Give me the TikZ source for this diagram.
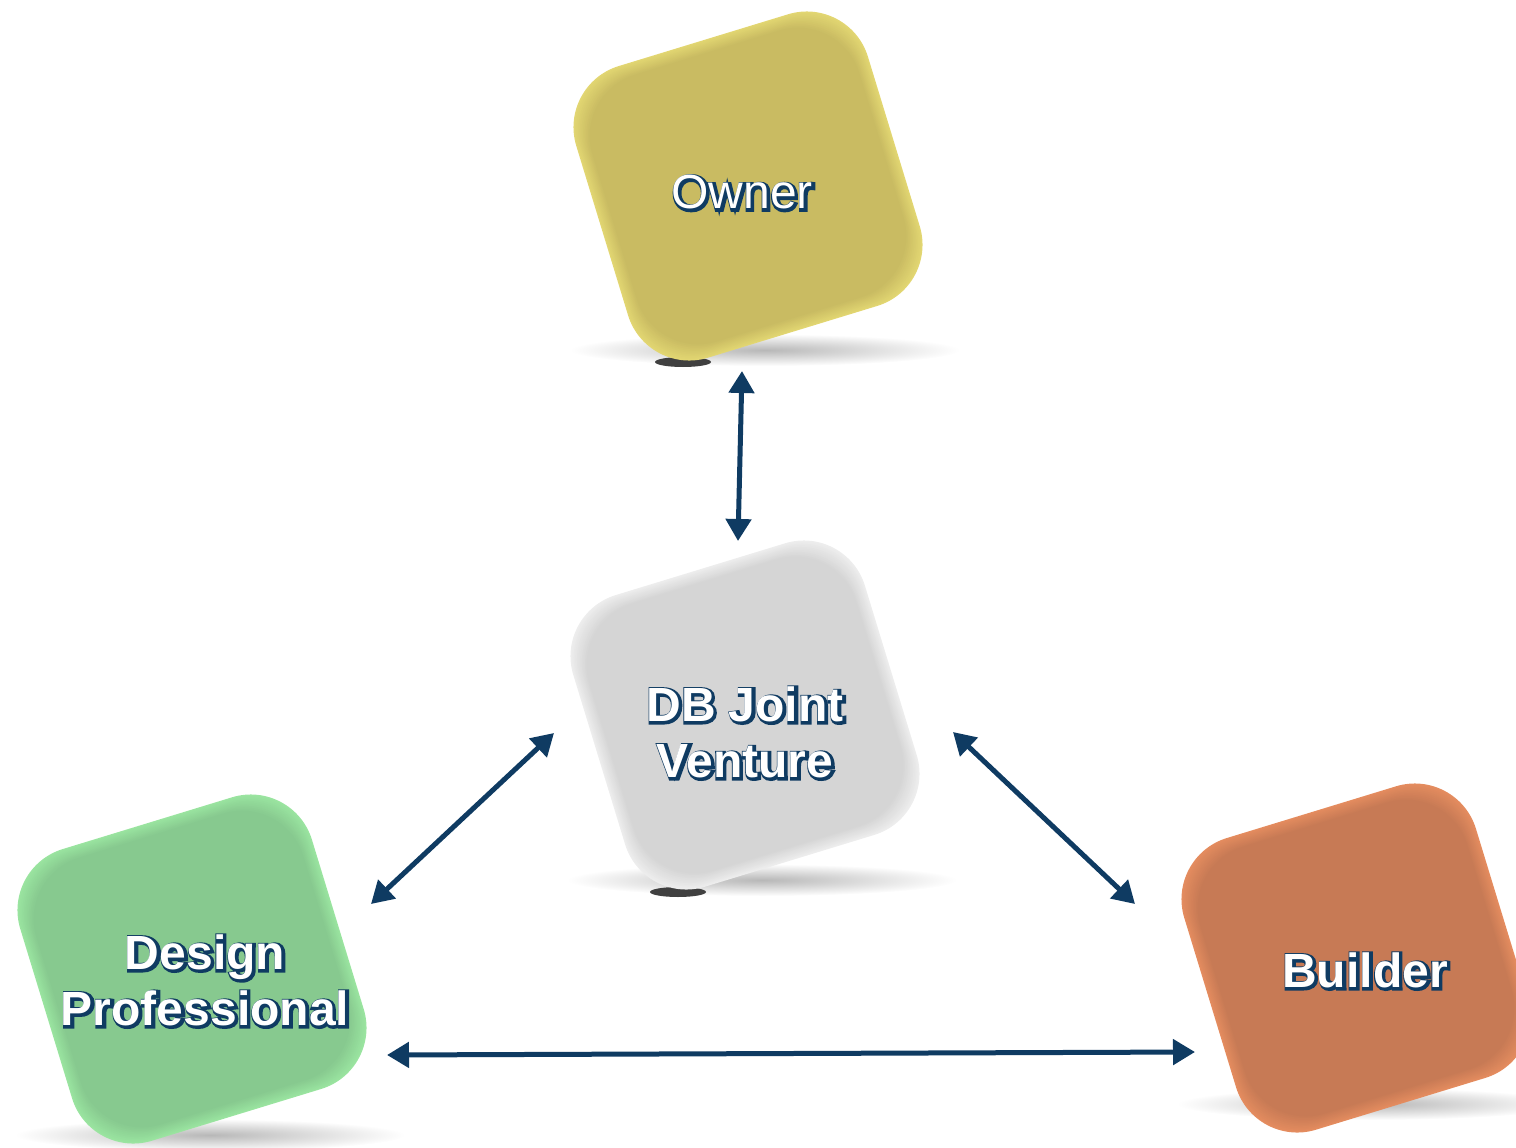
\documentclass[tikz,border=0pt]{standalone}
\usepackage{fontspec}
\setmainfont{Liberation Sans}
\newfontfamily\regout{Liberation Sans}[FakeBold=9]
\newfontfamily\boldout{Liberation Sans Bold}[FakeBold=9]
\newfontfamily\boldin{Liberation Sans Bold}
\usetikzlibrary{arrows.meta}
\definecolor{navyc}{HTML}{0F3B62}
\definecolor{ownerbase}{HTML}{C9BB62}
\definecolor{owneredge}{HTML}{E2D672}
\definecolor{dbbase}{HTML}{D5D5D5}
\definecolor{dbedge}{HTML}{EDEDED}
\definecolor{desbase}{HTML}{87C98F}
\definecolor{desedge}{HTML}{9AE4A0}
\definecolor{bldbase}{HTML}{C77A55}
\definecolor{bldedge}{HTML}{E48C5F}
\newcommand\softbox[4]{%
  \node[boxshape, minimum size=305pt, rounded corners=64pt, fill=#3] (#1) at (#2) {};
  \foreach \k in {1,...,10}{%
    \pgfmathsetmacro\sz{305-2.6*\k}
    \pgfmathsetmacro\pc{\k*10}
    \node[boxshape, minimum size=\sz pt, rounded corners=64pt, fill=#4!\pc!#3] at (#2) {};
  }%
}
\tikzset{
  boxshape/.style={rectangle, rotate=17, inner sep=0pt, draw=none},
  link/.style={draw=navyc, line width=5pt, {Triangle[length=22pt,width=25pt]}-{Triangle[length=22pt,width=25pt]}},
  lblreg/.style={text=white, align=center, font=\fontsize{48}{56}\selectfont},
  lblregout/.style={text=navyc, align=center, font=\regout\fontsize{48}{56}\selectfont},
  lblb/.style={text=white, align=center, font=\boldin\fontsize{48}{56}\selectfont},
  lblbout/.style={text=navyc, align=center, font=\boldout\fontsize{48}{56}\selectfont},
}
\begin{document}
\begin{tikzpicture}[x=1pt,y=-1pt]
\useasboundingbox (0,0) rectangle (1516,1148);
\clip (0,0) rectangle (1516,1148);
% soft shadows
\shade[inner color=black!28, outer color=white] (765,350) ellipse (195 and 16);
\shade[inner color=black!28, outer color=white] (762,880) ellipse (195 and 16);
\shade[inner color=black!28, outer color=white] (210,1135) ellipse (195 and 16);
\shade[inner color=black!28, outer color=white] (1372,1104) ellipse (195 and 16);
\fill[black!75] (683,362) ellipse (28 and 5);
\fill[black!75] (678,892) ellipse (28 and 5);
\fill[black!75] (1292,1112) ellipse (28 and 5);
% boxes
\softbox{owner}{748,186}{owneredge}{ownerbase}
\softbox{db}{745,715}{dbedge}{dbbase}
\softbox{design}{192,969}{desedge}{desbase}
\softbox{builder}{1356,958}{bldedge}{bldbase}
% arrow end points
\coordinate (a1) at (742,371);
\coordinate (a2) at (738,541);
\coordinate (b1) at (554,733);
\coordinate (b2) at (371,904);
\coordinate (c1) at (953,732);
\coordinate (c2) at (1135,904);
\coordinate (d1) at (387,1055);
\coordinate (d2) at (1195,1052);
\draw[link] (a1) -- (a2);
\draw[link] (b1) -- (b2);
\draw[link] (c1) -- (c2);
\draw[link] (d1) -- (d2);
% labels: navy outline copy (slightly offset) under white text
\node[lblregout] (ownersh) at (743.2,193.2) {Owner};
\node[lblreg] (ownerlbl) at (742,192) {Owner};
\node[lblbout] (dbsh) at (746.2,733.2) {DB Joint\\Venture};
\node[lblb] (dblbl) at (745,732) {DB Joint\\Venture};
\node[lblbout] (dessh) at (206.2,981.2) {Design\\Professional};
\node[lblb] (deslbl) at (205,980) {Design\\Professional};
\node[lblbout] (bldsh) at (1366.2,971.2) {Builder};
\node[lblb] (bldlbl) at (1365,970) {Builder};
\end{tikzpicture}
\end{document}
